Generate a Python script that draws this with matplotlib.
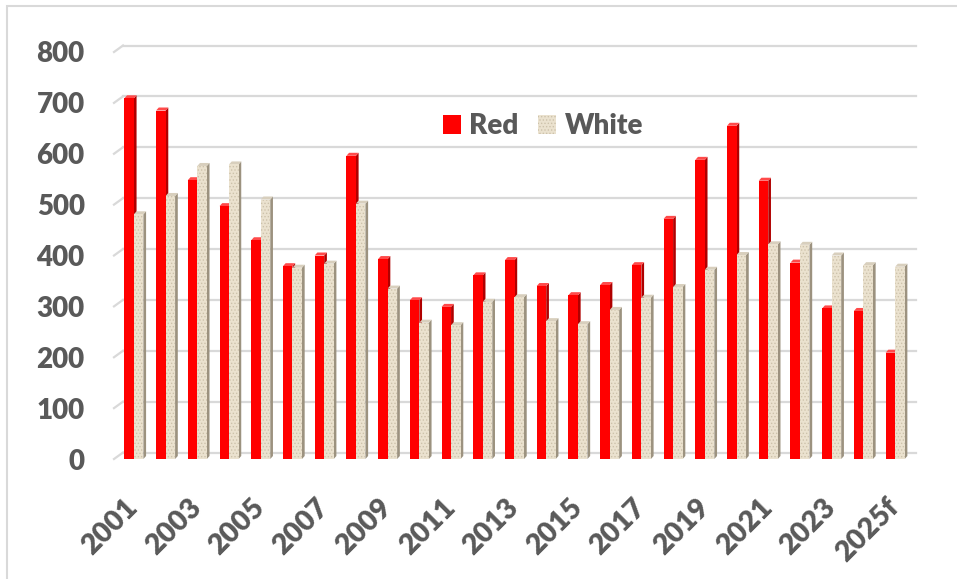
import numpy as np
import matplotlib.pyplot as plt
from matplotlib.patches import Patch, Rectangle
from matplotlib.transforms import offset_copy

# === DATA ===
years = ['2001', '2002', '2003', '2004', '2005', '2006', '2007', '2008', '2009',
         '2010', '2011', '2012', '2013', '2014', '2015', '2016', '2017', '2018',
         '2019', '2020', '2021', '2022', '2023', '2024', '2025f']
red = [709, 685, 548, 497, 430, 379, 400, 596, 393, 312, 299, 361, 391,
       340, 322, 342, 381, 472, 588, 655, 547, 386, 296, 291, 209]
white = [481, 517, 576, 579, 510, 376, 384, 502, 335, 268, 263, 309, 318,
         271, 265, 293, 317, 338, 372, 401, 422, 421, 400, 381, 378]
yticks = [0, 100, 200, 300, 400, 500, 600, 700, 800]

# === STYLE ===
plt.rcParams['font.family'] = ['Lato', 'DejaVu Sans']
plt.rcParams['hatch.linewidth'] = 0.6
text_col = '#595959'
grid_col = '#d9d9d9'
red_front, red_side, red_top = '#ff0000', '#b00000', '#ff4a4a'
wh_front, wh_side, wh_top, wh_dots = '#ebe2cf', '#9c927f', '#d8cfbd', '#cdc2ab'
fw = 'heavy'

fig = plt.figure(figsize=(9.57, 5.79), dpi=100)
ax = fig.add_axes([118 / 957, 120 / 579, 793 / 957, 407 / 579])
x = np.arange(len(years))
w = 0.3

# back-wall gridlines (3D offset) + little floor ticks on the left
for v in yticks:
    back = offset_copy(ax.transData, fig=fig, x=5, y=6.5, units='dots')
    ax.plot([-0.5, 24.5], [v, v], color=grid_col, lw=1.6, transform=back,
            clip_on=False, zorder=0)
    ax.plot([-0.5 - 4 / 31.7, -0.5 + 5 / 31.7], [v, v + 6.5 / 0.509],
            color=grid_col, lw=1.6, clip_on=False, zorder=0)

# pseudo-3D columns: side face, top face, front face
dx = 2.7 / 31.7
dy = 3.0 / 0.509
for xs, vals, front, side, top, hatch in [
        (x - w, red, red_front, red_side, red_top, None),
        (x, white, wh_front, wh_side, wh_top, '.....')]:
    for xi, v in zip(xs, vals):
        ax.fill([xi + w, xi + w + dx, xi + w + dx, xi + w],
                [0, dy, v + dy, v], color=side, lw=0, zorder=2)
        ax.fill([xi, xi + w, xi + w + dx, xi + dx],
                [v, v, v + dy, v + dy], color=top, lw=0, zorder=2)
    ax.bar(xs, vals, width=w, align='edge', color=front, hatch=hatch,
           edgecolor=wh_dots if hatch else front, linewidth=0, zorder=3)

ax.set_xlim(-0.5, 24.5)
ax.set_ylim(0, 800)
ax.set_yticks(yticks)
ax.set_yticklabels([str(v) for v in yticks], fontsize=20, fontweight=fw,
                   color=text_col)
ax.set_xticks(x[::2])
ax.set_xticklabels(years[::2], fontsize=20.5, fontweight=fw, color=text_col,
                   rotation=45, ha='right', va='center', rotation_mode='anchor')
ax.tick_params(axis='y', length=0, pad=24)
ax.tick_params(axis='x', length=0, pad=32)
for s in ax.spines.values():
    s.set_visible(False)
ax.patch.set_alpha(0)

handles = [Patch(facecolor=red_front, label='Red'),
           Patch(facecolor=wh_front, edgecolor=wh_dots, hatch='.....', lw=0,
                 label='White')]
leg = fig.legend(handles=handles, loc='center', bbox_to_anchor=(543 / 957, 1 - 126 / 579),
                 ncol=2, frameon=False, handlelength=0.65, handleheight=0.65,
                 handletextpad=0.3, columnspacing=0.7, prop={'size': 20, 'weight': fw})
for t in leg.get_texts():
    t.set_color(text_col)

# chart-area border
fig.patches.append(Rectangle((7 / 957, -0.1), 1.1, 1 - 6.5 / 579 + 0.1,
                             transform=fig.transFigure, fill=False,
                             edgecolor=grid_col, lw=1.5))

fig.savefig('out.png', dpi=100)
